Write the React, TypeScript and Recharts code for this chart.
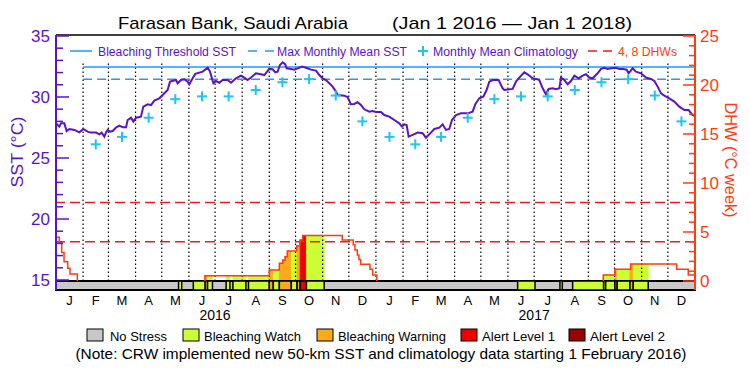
import React from "react";
import {
  ComposedChart,
  Line,
  Scatter,
  XAxis,
  YAxis,
  ReferenceLine,
  ReferenceArea,
} from "recharts";

// days counted from Jan 1 2016
const monthStarts = [0, 31, 60, 91, 121, 152, 182, 213, 244, 274, 305, 335, 366, 397, 425, 456, 486, 517, 547, 578, 609, 639, 670, 700, 731];
const monthLetters = ["J", "F", "M", "A", "M", "J", "J", "A", "S", "O", "N", "D"];
const yearTicks = [182, 547];
const yearNames = ["2016", "2017"];

// monthly mean climatology (Jan..Dec), shown from Feb 2016
const climatology = [26.73, 26.12, 26.73, 28.3, 29.82, 30.05, 30.05, 30.57, 31.21, 31.46, 30.12, 28.0];
const mmm = 31.46;
const bleachingThreshold = 32.46;
const climStartDay = 31;

const sstDays = [
  0, 3.8, 5.7, 9.5, 12.2, 15.3, 21, 26.7, 31.3, 36.2, 40, 45.8, 49.6, 52.2, 55.3, 57.2, 59.1, 61.8, 64.8, 68.6,
  72.4, 76.3, 80.1, 82, 85.8, 88.5, 91.5, 97.2, 99.9, 104.9, 108.7, 112.5, 118.2, 122.8, 127.7, 130.4, 137.3, 139.2, 143, 146.8,
  150.6, 152.5, 156.3, 159.4, 167.8, 173.5, 176.2, 180, 183, 186.8, 190.6, 196.3, 200.2, 205.9, 211.6, 215.4, 219.2, 223, 228.8, 234.5,
  238.3, 244, 247.8, 250.9, 253.5, 256.2, 259.3, 262.3, 263.8, 268.8, 272.6, 276.4, 281.4, 286, 291.7, 297.4, 301.2, 305, 308.8, 312.6,
  316.5, 320.3, 322.2, 329.8, 333.6, 337.4, 341.2, 345, 348.9, 352.7, 358.4, 362.2, 366, 371.8, 375.6, 381.3, 387, 392.7, 395.8, 398.5,
  401.1, 403.4, 408, 413.7, 419.4, 423.2, 427, 432.8, 438.5, 442.3, 446.1, 449.9, 453, 457.6, 463.3, 470.9, 476.6, 479.7, 484.2, 488.8,
  492.6, 495.7, 499.5, 506.4, 511, 512.9, 522.4, 526.2, 530, 535.7, 539.5, 545.3, 549.1, 552.9, 556.7, 560.5, 563.6, 568.2, 572, 575.8,
  577.7, 581.5, 585.3, 589.1, 593, 597.9, 602.5, 606.3, 610.1, 613.9, 619.6, 623.5, 627.3, 631.1, 634.9, 640.6, 644.4, 649, 652.8, 655.1,
  659.7, 663.5, 669.2, 674.9, 680.6, 684.5, 688.3, 692.1, 695.9, 701.6, 707.3, 713, 718.8, 723.7, 728.2, 731,
];
const sstValues = [
  27.84, 27.57, 27.84, 27.84, 27.21, 27.38, 27.3, 27.1, 27.38, 27.16, 27.08, 27.08, 26.94, 27.08, 26.75, 27.1, 27.3, 27.16, 27.21, 27.49,
  27.65, 27.52, 27.52, 28.11, 28.3, 27.98, 28.3, 28.39, 29.21, 29.4, 29.34, 29.7, 29.89, 30.22, 30.57, 31.26, 31.39, 31.12, 31.39, 31.45,
  31.26, 31.04, 31.53, 31.89, 32.08, 32.4, 32.08, 31.12, 31.31, 31.17, 31.39, 31.39, 31.17, 31.53, 31.75, 31.59, 31.39, 31.59, 31.94, 31.86,
  31.8, 32.3, 32.27, 32.02, 32.08, 32.62, 32.84, 32.67, 32.35, 32.3, 32.24, 32.35, 32.49, 32.4, 32.24, 32.16, 31.8, 31.53, 31.39, 31.12,
  30.85, 30.44, 30.16, 30.11, 30.0, 29.4, 29.43, 29.57, 29.34, 28.99, 28.8, 28.85, 28.77, 28.77, 28.52, 28.39, 28.11, 27.84, 27.57, 27.76,
  27.7, 26.75, 26.89, 27.08, 27.03, 26.67, 26.94, 27.38, 27.49, 27.76, 27.3, 27.38, 28.11, 28.52, 28.66, 28.66, 28.8, 29.4, 29.89, 30.03,
  30.57, 31.26, 31.39, 31.39, 30.71, 30.57, 30.66, 31.26, 31.59, 32.02, 31.86, 31.53, 31.48, 31.39, 30.71, 30.22, 30.66, 30.71, 30.63, 30.71,
  31.59, 31.39, 31.04, 31.31, 31.75, 31.53, 31.75, 31.86, 31.59, 31.53, 31.94, 32.3, 32.4, 32.3, 32.35, 32.4, 32.3, 32.3, 32.24, 31.94,
  32.35, 32.08, 31.94, 31.59, 31.48, 31.31, 30.85, 30.3, 30.11, 29.89, 29.62, 29.21, 28.93, 28.93, 28.52, 28.44,
];

// degree heating weeks, step changes (null = gap)
const dhwDays = [0, 3.8, 6.5, 9.2, 13.4, 16, 24.4, 100, 170.4, 170.4, 244, 255.5, 259.3, 262, 264.6, 275.3, 279.1, 282.2, 327.5, 340, 342, 344.7, 346.5, 348.5, 359.2, 362.3, 367, 500, 626.1, 626.1, 639.4, 657.3, 710, 723.3, 731];
const dhwValues = [4.46, 3.9, 2.9, 1.97, 1.3, 0.7, 0, null, 0, 0.54, 1.12, 1.8, 2.14, 2.48, 3.06, 3.6, 4.18, 4.63, 4.18, 3.69, 3.16, 2.65, 2.2, 1.7, 1.19, 0.61, 0, null, 0, 0.61, 1.19, 1.73, 1.19, 0.61, 0.61];

// bleaching alert status bar cells [start day, end day, level]
const statusCells: [number, number, string][] = [
  [140.2, 143.8, "watch"], [157.1, 170.6, "watch"], [170.6, 173.4, "warning"], [173.4, 179.0, "watch"],
  [194.6, 199.0, "watch"], [202.4, 217.2, "watch"], [220.2, 244.0, "watch"], [244.0, 248.6, "warning"],
  [248.6, 255.5, "watch"], [255.5, 269.2, "warning"], [269.2, 275.8, "watch"], [275.8, 279.3, "warning"],
  [279.3, 286.5, "alert1"], [286.5, 306.8, "watch"],
  [528.1, 548.0, "watch"], [576.5, 579.2, "watch"], [591.0, 626.5, "watch"], [626.5, 628.8, "watch"],
  [628.8, 639.4, "watch"], [639.4, 642.0, "warning"], [642.0, 656.6, "watch"], [656.6, 660.4, "warning"],
  [660.4, 677.5, "watch"],
];

const PURPLE = "#5a14c8";
const BLUE = "#1e9bff";
const CYAN = "#20c4f4";
const DHW_RED = "#ff3c10";
const DASH_RED = "#ee1c1c";
const levelColors: Record<string, string> = {
  none: "#c8c8c8",
  watch: "#ccff33",
  warning: "#ffaa1a",
  alert1: "#ee0000",
  alert2: "#990000",
};

const SST_MIN = 14.18;
const SST_MAX = 35.08;
const DHW_MIN = -0.92;
const DHW_MAX = 25.1;
const FONT = "'Liberation Sans', Arial, sans-serif";

const sstData = sstDays.map((d, i) => ({ day: d, sst: sstValues[i] }));
const dhwData = dhwDays.map((d, i) => ({ day: d, dhw: dhwValues[i] }));
const climData = monthStarts.slice(0, 24)
  .map((s, i) => ({ day: (s + monthStarts[i + 1]) / 2, clim: climatology[i % 12] }))
  .filter((p) => p.day > climStartDay);
const monthTicks = monthStarts.slice(0, 24).map((s, i) => (s + monthStarts[i + 1]) / 2);
const gridDays = monthStarts.slice(1, 24);

const dhwSteps = dhwData.filter((p) => p.dhw !== null) as { day: number; dhw: number }[];
const dhwAt = (t: number) => {
  let v = 0;
  dhwSteps.forEach((p) => {
    if (p.day <= t) v = p.dhw;
  });
  return v;
};
const fillCells: { x1: number; x2: number; v: number; level: string }[] = [];
statusCells.forEach(([s, e, level]) => {
  const cuts = [s, ...dhwSteps.map((p) => p.day).filter((d) => d > s && d < e), e];
  for (let i = 0; i < cuts.length - 1; i++) {
    const a = cuts[i];
    const b = cuts[i + 1];
    if (b <= a) continue;
    const v = dhwAt((a + b) / 2);
    if (v > 0) fillCells.push({ x1: a, x2: b, v, level });
  }
});

const SstTick = (props: any) => {
  const { x, y, payload } = props;
  const major = payload.value % 5 === 0;
  return (
    <g>
      <line x1={x} x2={x + (major ? 13 : 7)} y1={y} y2={y} stroke={PURPLE} strokeWidth={1.5} />
      {major && (
        <text x={x - 6} y={y} dy={6} textAnchor="end" fill={PURPLE} fontSize={17} fontFamily={FONT}>
          {payload.value}
        </text>
      )}
    </g>
  );
};

const DhwTick = (props: any) => {
  const { x, y, payload } = props;
  const major = payload.value % 5 === 0;
  return (
    <g>
      <line x1={x} x2={x - (major ? 12 : 6)} y1={y} y2={y} stroke={DHW_RED} strokeWidth={1.5} />
      {major && (
        <text x={x + 5} y={y} dy={6} textAnchor="start" fill={DHW_RED} fontSize={17} fontFamily={FONT}>
          {payload.value}
        </text>
      )}
    </g>
  );
};

const MonthTick = (props: any) => {
  const { x, y, payload } = props;
  const idx = monthTicks.indexOf(payload.value);
  return (
    <text x={x} y={y} dy={15} textAnchor="middle" fill="#000" fontSize={13} fontFamily={FONT}>
      {monthLetters[idx % 12]}
    </text>
  );
};

const YearTick = (props: any) => {
  const { x, y, payload } = props;
  return (
    <text x={x} y={y} dy={10} textAnchor="middle" fill="#000" fontSize={14} fontFamily={FONT}>
      {yearNames[yearTicks.indexOf(payload.value)]}
    </text>
  );
};

const Cross = (props: any) => {
  const { cx, cy } = props;
  return (
    <g>
      <line x1={cx - 5} x2={cx + 5} y1={cy} y2={cy} stroke={CYAN} strokeWidth={2} />
      <line x1={cx} x2={cx} y1={cy - 5} y2={cy + 5} stroke={CYAN} strokeWidth={2} />
    </g>
  );
};

const legendBoxes = [
  { x: 87, label: "No Stress", tx: 110, w: 57, level: "none" },
  { x: 183, label: "Bleaching Watch", tx: 204, w: 97, level: "watch" },
  { x: 317, label: "Bleaching Warning", tx: 338, w: 108, level: "warning" },
  { x: 461, label: "Alert Level 1", tx: 482, w: 73, level: "alert1" },
  { x: 569, label: "Alert Level 2", tx: 590, w: 75, level: "alert2" },
];

export default function App() {
  return (
    <div style={{ position: "absolute", left: 0, top: 0, width: 750, height: 375, background: "#fff" }}>
      <ComposedChart width={750} height={375} margin={{ top: 35, right: 5, bottom: 45, left: 6 }}>
        <XAxis
          dataKey="day"
          type="number"
          domain={[0, 731]}
          allowDataOverflow
          ticks={monthTicks}
          interval={0}
          tick={<MonthTick />}
          tickLine={false}
          axisLine={false}
          tickSize={0}
          tickMargin={0}
          height={20}
        />
        <XAxis
          xAxisId="year"
          dataKey="day"
          type="number"
          domain={[0, 731]}
          allowDataOverflow
          ticks={yearTicks}
          interval={0}
          tick={<YearTick />}
          tickLine={false}
          axisLine={false}
          tickSize={0}
          tickMargin={0}
          height={20}
        />
        <YAxis
          yAxisId="sst"
          orientation="left"
          width={50}
          type="number"
          domain={[SST_MIN, SST_MAX]}
          allowDataOverflow
          ticks={[15, 16, 17, 18, 19, 20, 21, 22, 23, 24, 25, 26, 27, 28, 29, 30, 31, 32, 33, 34, 35]}
          interval={0}
          tick={<SstTick />}
          tickLine={false}
          tickSize={0}
          tickMargin={0}
          axisLine={{ stroke: PURPLE, strokeWidth: 2 }}
        />
        <YAxis
          yAxisId="dhw"
          orientation="right"
          width={50}
          type="number"
          domain={[DHW_MIN, DHW_MAX]}
          allowDataOverflow
          ticks={[0, 1, 2, 3, 4, 5, 6, 7, 8, 9, 10, 11, 12, 13, 14, 15, 16, 17, 18, 19, 20, 21, 22, 23, 24, 25]}
          interval={0}
          tick={<DhwTick />}
          tickLine={false}
          tickSize={0}
          tickMargin={0}
          axisLine={{ stroke: DHW_RED, strokeWidth: 2 }}
        />

        {/* top frame */}
        <ReferenceLine yAxisId="sst" y={SST_MAX} stroke="#000" strokeWidth={1.5} />

        {/* month grid */}
        {gridDays.map((d) => (
          <ReferenceLine
            key={"g" + d}
            yAxisId="sst"
            segment={[{ x: d, y: 32.75 }, { x: d, y: 15 }]}
            stroke="#000"
            strokeWidth={1.2}
            strokeDasharray="1.5 2.5"
          />
        ))}

        {/* DHW fills coloured by alert level */}
        {fillCells.map((c, i) => (
          <ReferenceArea
            key={"f" + i}
            yAxisId="dhw"
            x1={c.x1}
            x2={c.x2}
            y1={0}
            y2={c.v}
            fill={levelColors[c.level]}
            fillOpacity={1}
            stroke={levelColors[c.level]}
            strokeWidth={0.8}
          />
        ))}

        <ReferenceLine yAxisId="dhw" y={4} stroke={DASH_RED} strokeWidth={1.5} strokeDasharray="10 5" />
        <ReferenceLine yAxisId="dhw" y={8} stroke={DASH_RED} strokeWidth={1.5} strokeDasharray="10 5" />

        <ReferenceLine
          yAxisId="sst"
          segment={[{ x: climStartDay, y: bleachingThreshold }, { x: 731, y: bleachingThreshold }]}
          stroke={BLUE}
          strokeWidth={1.5}
        />
        <ReferenceLine
          yAxisId="sst"
          segment={[{ x: climStartDay, y: mmm }, { x: 731, y: mmm }]}
          stroke={BLUE}
          strokeWidth={1.5}
          strokeDasharray="9 5"
        />

        <Scatter yAxisId="sst" data={climData} dataKey="clim" shape={<Cross />} isAnimationActive={false} />

        <Line
          yAxisId="dhw"
          data={dhwData}
          dataKey="dhw"
          type="stepAfter"
          stroke={DHW_RED}
          strokeWidth={1.5}
          dot={false}
          activeDot={false}
          connectNulls={false}
          isAnimationActive={false}
        />
        <Line
          yAxisId="sst"
          data={sstData}
          dataKey="sst"
          type="linear"
          stroke={PURPLE}
          strokeWidth={2}
          dot={false}
          activeDot={false}
          isAnimationActive={false}
        />

        {/* status bar */}
        <ReferenceArea
          yAxisId="dhw"
          x1={0}
          x2={731}
          y1={DHW_MIN}
          y2={0}
          fill={levelColors.none}
          fillOpacity={1}
          stroke="#000"
          strokeWidth={2}
        />
        {statusCells.map(([s, e, level], i) => (
          <ReferenceArea
            key={"s" + i}
            yAxisId="dhw"
            x1={s}
            x2={e}
            y1={DHW_MIN}
            y2={0}
            fill={levelColors[level]}
            fillOpacity={1}
            stroke="#000"
            strokeWidth={1.5}
          />
        ))}
      </ComposedChart>

      <svg
        width={750}
        height={375}
        style={{ position: "absolute", left: 0, top: 0, pointerEvents: "none" }}
        fontFamily={FONT}
      >
        <text x={233} y={29} textAnchor="middle" fontSize={17} fill="#000" textLength={230} lengthAdjust="spacingAndGlyphs">
          Farasan Bank, Saudi Arabia
        </text>
        <text x={512} y={29} textAnchor="middle" fontSize={17} fill="#000" textLength={240} lengthAdjust="spacingAndGlyphs">
          (Jan 1 2016 — Jan 1 2018)
        </text>

        <text transform="translate(23,152) rotate(-90)" textAnchor="middle" fontSize={16} fill={PURPLE} textLength={71} lengthAdjust="spacingAndGlyphs">
          SST (°C)
        </text>
        <text transform="translate(725,160) rotate(90)" textAnchor="middle" fontSize={16} fill={DHW_RED} textLength={115} lengthAdjust="spacingAndGlyphs">
          DHW (°C week)
        </text>

        {/* top legend */}
        <line x1={70} x2={92} y1={51} y2={51} stroke={BLUE} strokeWidth={1.5} />
        <text x={98} y={56} fontSize={12.5} fill={PURPLE} textLength={138} lengthAdjust="spacingAndGlyphs">
          Bleaching Threshold SST
        </text>
        <line x1={248} x2={275} y1={51} y2={51} stroke={BLUE} strokeWidth={1.5} strokeDasharray="9 8" />
        <text x={277} y={56} fontSize={12.5} fill={PURPLE} textLength={130} lengthAdjust="spacingAndGlyphs">
          Max Monthly Mean SST
        </text>
        <line x1={418} x2={428} y1={51} y2={51} stroke={CYAN} strokeWidth={2} />
        <line x1={423} x2={423} y1={46} y2={56} stroke={CYAN} strokeWidth={2} />
        <text x={433} y={56} fontSize={12.5} fill={PURPLE} textLength={145} lengthAdjust="spacingAndGlyphs">
          Monthly Mean Climatology
        </text>
        <line x1={588} x2={612} y1={51} y2={51} stroke={DASH_RED} strokeWidth={1.5} strokeDasharray="9 6" />
        <text x={618} y={56} fontSize={12.5} fill={DHW_RED} textLength={59} lengthAdjust="spacingAndGlyphs">
          4, 8 DHWs
        </text>

        {/* bottom legend */}
        {legendBoxes.map((b) => (
          <g key={b.label}>
            <rect x={b.x} y={329} width={16} height={12} fill={levelColors[b.level]} stroke="#000" strokeWidth={1} />
            <text x={b.tx} y={341} fontSize={13.5} fill="#000" textLength={b.w} lengthAdjust="spacingAndGlyphs">
              {b.label}
            </text>
          </g>
        ))}
        <text x={381} y={359} textAnchor="middle" fontSize={14.5} fill="#000" textLength={611} lengthAdjust="spacingAndGlyphs">
          (Note: CRW implemented new 50-km SST and climatology data starting 1 February 2016)
        </text>
      </svg>
    </div>
  );
}
